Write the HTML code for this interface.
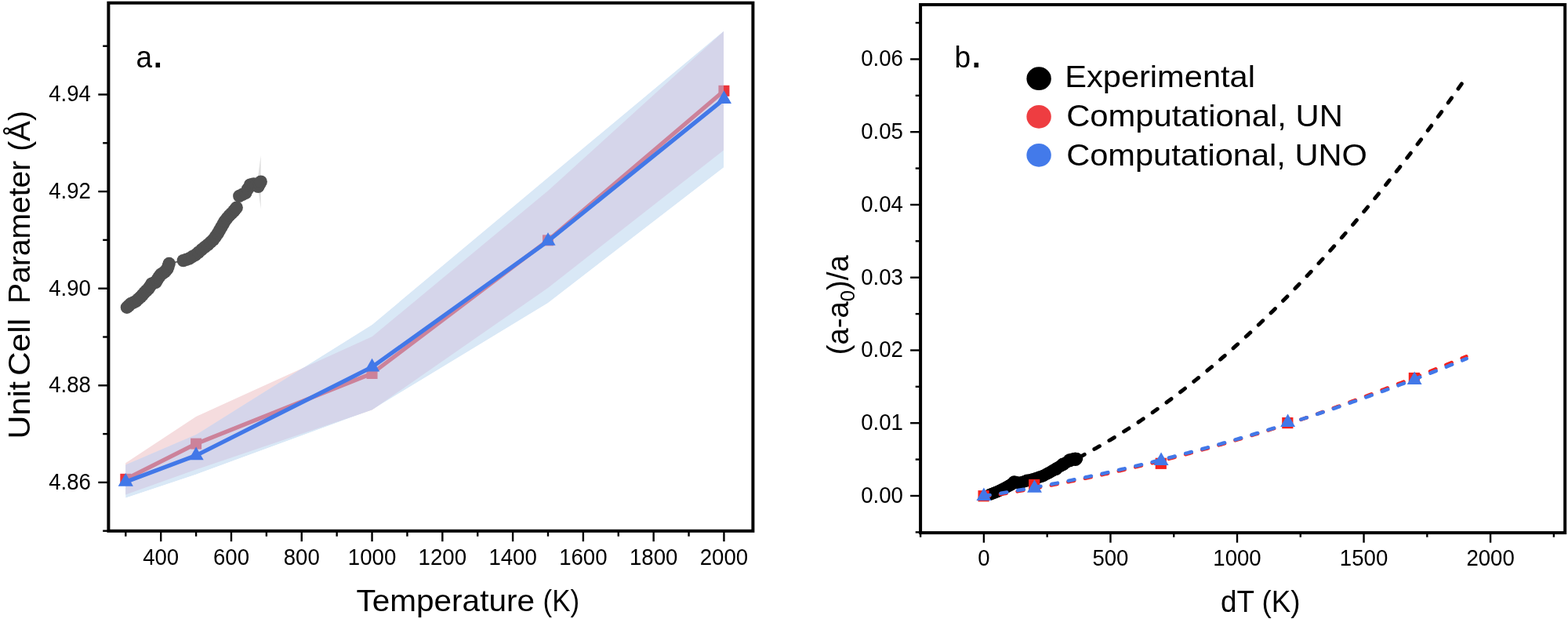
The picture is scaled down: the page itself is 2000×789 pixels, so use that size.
<!DOCTYPE html>
<html lang="en">
<head>
<meta charset="utf-8">
<title>Unit cell parameter and thermal expansion</title>
<style>
html,body{margin:0;padding:0;background:#fff;}
body{width:2000px;height:789px;overflow:hidden;font-family:"Liberation Sans", Arial, Helvetica, sans-serif;}
svg{display:block;}
svg text{font-family:"Liberation Sans", Arial, Helvetica, sans-serif;}
</style>
</head>
<body>
<svg width="2000" height="789" viewBox="0 0 2000 789" font-family='"Liberation Sans", Arial, Helvetica, sans-serif'>
<defs><clipPath id="cb"><polygon points="160.15,592.50 250.10,554.10 474.70,413.70 698.90,226.30 923.05,39.40 923.05,213.50 698.90,386.20 474.70,522.20 250.10,604.70 160.15,634.70"/></clipPath></defs>
<rect x="0" y="0" width="2000" height="789" fill="#ffffff"/>
<g id="left-data">
<polygon points="332.7,198 328.2,232 332.7,266.5" fill="#dedede"/>
<polyline points="161.90,391.80 166.70,387.30 173.50,383.90 179.20,378.70 184.30,373.00 189.50,367.90 193.50,361.60 198.60,359.90 202.00,354.20 205.40,349.60 210.00,346.80 213.40,342.80 215.70,336.00 233.80,332.10 241.20,329.60 249.20,325.00 257.20,318.20 265.20,311.90 272.00,305.60 277.70,297.60 282.30,289.60 286.80,281.70 292.50,274.80 298.20,269.10 301.70,264.60 305.30,249.90 313.30,245.90 319.00,235.60 323.60,234.50 329.30,237.90 332.70,231.60" fill="none" stroke="#505050" stroke-width="1.5" />
<circle cx="161.9" cy="391.8" r="8.2" fill="#505050"/>
<circle cx="164.3" cy="389.6" r="8.2" fill="#505050"/>
<circle cx="166.7" cy="387.3" r="8.2" fill="#505050"/>
<circle cx="170.1" cy="385.6" r="8.2" fill="#505050"/>
<circle cx="173.5" cy="383.9" r="8.2" fill="#505050"/>
<circle cx="176.3" cy="381.3" r="8.2" fill="#505050"/>
<circle cx="179.2" cy="378.7" r="8.2" fill="#505050"/>
<circle cx="181.8" cy="375.9" r="8.2" fill="#505050"/>
<circle cx="184.3" cy="373.0" r="8.2" fill="#505050"/>
<circle cx="186.9" cy="370.4" r="8.2" fill="#505050"/>
<circle cx="189.5" cy="367.9" r="8.2" fill="#505050"/>
<circle cx="191.5" cy="364.8" r="8.2" fill="#505050"/>
<circle cx="193.5" cy="361.6" r="8.2" fill="#505050"/>
<circle cx="196.1" cy="360.8" r="8.2" fill="#505050"/>
<circle cx="198.6" cy="359.9" r="8.2" fill="#505050"/>
<circle cx="200.3" cy="357.0" r="8.2" fill="#505050"/>
<circle cx="202.0" cy="354.2" r="8.2" fill="#505050"/>
<circle cx="203.7" cy="351.9" r="8.2" fill="#505050"/>
<circle cx="205.4" cy="349.6" r="8.2" fill="#505050"/>
<circle cx="207.7" cy="348.2" r="8.2" fill="#505050"/>
<circle cx="210.0" cy="346.8" r="8.2" fill="#505050"/>
<circle cx="211.7" cy="344.8" r="8.2" fill="#505050"/>
<circle cx="213.4" cy="342.8" r="8.2" fill="#505050"/>
<circle cx="214.6" cy="339.4" r="8.2" fill="#505050"/>
<circle cx="215.7" cy="336.0" r="8.2" fill="#505050"/>
<circle cx="233.8" cy="332.1" r="8.2" fill="#505050"/>
<circle cx="237.5" cy="330.9" r="8.2" fill="#505050"/>
<circle cx="241.2" cy="329.6" r="8.2" fill="#505050"/>
<circle cx="245.2" cy="327.3" r="8.2" fill="#505050"/>
<circle cx="249.2" cy="325.0" r="8.2" fill="#505050"/>
<circle cx="253.2" cy="321.6" r="8.2" fill="#505050"/>
<circle cx="257.2" cy="318.2" r="8.2" fill="#505050"/>
<circle cx="261.2" cy="315.0" r="8.2" fill="#505050"/>
<circle cx="265.2" cy="311.9" r="8.2" fill="#505050"/>
<circle cx="268.6" cy="308.8" r="8.2" fill="#505050"/>
<circle cx="272.0" cy="305.6" r="8.2" fill="#505050"/>
<circle cx="274.9" cy="301.6" r="8.2" fill="#505050"/>
<circle cx="277.7" cy="297.6" r="8.2" fill="#505050"/>
<circle cx="280.0" cy="293.6" r="8.2" fill="#505050"/>
<circle cx="282.3" cy="289.6" r="8.2" fill="#505050"/>
<circle cx="284.6" cy="285.6" r="8.2" fill="#505050"/>
<circle cx="286.8" cy="281.7" r="8.2" fill="#505050"/>
<circle cx="289.6" cy="278.2" r="8.2" fill="#505050"/>
<circle cx="292.5" cy="274.8" r="8.2" fill="#505050"/>
<circle cx="295.4" cy="272.0" r="8.2" fill="#505050"/>
<circle cx="298.2" cy="269.1" r="8.2" fill="#505050"/>
<circle cx="299.9" cy="266.9" r="8.2" fill="#505050"/>
<circle cx="301.7" cy="264.6" r="8.2" fill="#505050"/>
<circle cx="305.3" cy="249.9" r="8.2" fill="#505050"/>
<circle cx="309.3" cy="247.9" r="8.2" fill="#505050"/>
<circle cx="313.3" cy="245.9" r="8.2" fill="#505050"/>
<circle cx="316.1" cy="240.8" r="8.2" fill="#505050"/>
<circle cx="319.0" cy="235.6" r="8.2" fill="#505050"/>
<circle cx="321.3" cy="235.1" r="8.2" fill="#505050"/>
<circle cx="323.6" cy="234.5" r="8.2" fill="#505050"/>
<circle cx="326.5" cy="236.2" r="8.2" fill="#505050"/>
<circle cx="329.3" cy="237.9" r="8.2" fill="#505050"/>
<circle cx="331.0" cy="234.8" r="8.2" fill="#505050"/>
<circle cx="332.7" cy="231.6" r="8.2" fill="#505050"/>
<polygon points="160.15,590.20 250.10,530.90 474.70,429.10 698.90,243.20 923.05,39.90 923.05,191.40 698.90,367.00 474.70,522.50 250.10,598.60 160.15,630.50" fill="#f5dcde"/>
<polyline points="160.31,610.80 250.09,565.60 474.54,476.00 698.99,306.40 923.44,115.80" fill="none" stroke="#eb353b" stroke-width="5.3" stroke-linejoin="round"/>
<rect x="153.31" y="603.80" width="14" height="14" fill="#eb353b"/>
<rect x="243.09" y="558.60" width="14" height="14" fill="#eb353b"/>
<rect x="467.54" y="469.00" width="14" height="14" fill="#eb353b"/>
<rect x="691.99" y="299.40" width="14" height="14" fill="#eb353b"/>
<rect x="916.44" y="108.80" width="14" height="14" fill="#eb353b"/>
<g clip-path="url(#cb)">
<polygon points="160.15,592.50 250.10,554.10 474.70,413.70 698.90,226.30 923.05,39.40 923.05,213.50 698.90,386.20 474.70,522.20 250.10,604.70 160.15,634.70" fill="#d9e8f6"/>
<polygon points="160.15,590.20 250.10,530.90 474.70,429.10 698.90,243.20 923.05,39.90 923.05,191.40 698.90,367.00 474.70,522.50 250.10,598.60 160.15,630.50" fill="#d5d5ea"/>
<polyline points="160.31,610.80 250.09,565.60 474.54,476.00 698.99,306.40 923.44,115.80" fill="none" stroke="#cc829a" stroke-width="5.3" stroke-linejoin="round"/>
<rect x="153.31" y="603.80" width="14" height="14" fill="#cc829a"/>
<rect x="243.09" y="558.60" width="14" height="14" fill="#cc829a"/>
<rect x="467.54" y="469.00" width="14" height="14" fill="#cc829a"/>
<rect x="691.99" y="299.40" width="14" height="14" fill="#cc829a"/>
<rect x="916.44" y="108.80" width="14" height="14" fill="#cc829a"/>
</g>
<polyline points="160.31,614.20 250.09,580.60 474.54,467.90 698.99,307.30 923.44,126.40" fill="none" stroke="#4278e8" stroke-width="5.3" stroke-linejoin="round"/>
<polygon points="160.31,603.07 169.91,619.77 150.71,619.77" fill="#4278e8"/>
<polygon points="250.09,569.47 259.69,586.17 240.49,586.17" fill="#4278e8"/>
<polygon points="474.54,456.77 484.14,473.47 464.94,473.47" fill="#4278e8"/>
<polygon points="698.99,296.17 708.59,312.87 689.39,312.87" fill="#4278e8"/>
<polygon points="923.44,115.27 933.04,131.97 913.84,131.97" fill="#4278e8"/>
</g>
<g id="left-axes">
<rect x="138.4" y="3.7" width="822.00" height="673.10" fill="none" stroke="#000" stroke-width="4.0"/>
<line x1="205.20" y1="676.8" x2="205.20" y2="690.20" stroke="#000" stroke-width="2.4"/>
<text x="205.20" y="719.6" font-size="29.0" text-anchor="middle" textLength="46.0" lengthAdjust="spacingAndGlyphs">400</text>
<line x1="294.98" y1="676.8" x2="294.98" y2="690.20" stroke="#000" stroke-width="2.4"/>
<text x="294.98" y="719.6" font-size="29.0" text-anchor="middle" textLength="46.0" lengthAdjust="spacingAndGlyphs">600</text>
<line x1="384.76" y1="676.8" x2="384.76" y2="690.20" stroke="#000" stroke-width="2.4"/>
<text x="384.76" y="719.6" font-size="29.0" text-anchor="middle" textLength="46.0" lengthAdjust="spacingAndGlyphs">800</text>
<line x1="474.54" y1="676.8" x2="474.54" y2="690.20" stroke="#000" stroke-width="2.4"/>
<text x="474.54" y="719.6" font-size="29.0" text-anchor="middle" textLength="61.4" lengthAdjust="spacingAndGlyphs">1000</text>
<line x1="564.32" y1="676.8" x2="564.32" y2="690.20" stroke="#000" stroke-width="2.4"/>
<text x="564.32" y="719.6" font-size="29.0" text-anchor="middle" textLength="61.4" lengthAdjust="spacingAndGlyphs">1200</text>
<line x1="654.10" y1="676.8" x2="654.10" y2="690.20" stroke="#000" stroke-width="2.4"/>
<text x="654.10" y="719.6" font-size="29.0" text-anchor="middle" textLength="61.4" lengthAdjust="spacingAndGlyphs">1400</text>
<line x1="743.88" y1="676.8" x2="743.88" y2="690.20" stroke="#000" stroke-width="2.4"/>
<text x="743.88" y="719.6" font-size="29.0" text-anchor="middle" textLength="61.4" lengthAdjust="spacingAndGlyphs">1600</text>
<line x1="833.66" y1="676.8" x2="833.66" y2="690.20" stroke="#000" stroke-width="2.4"/>
<text x="833.66" y="719.6" font-size="29.0" text-anchor="middle" textLength="61.4" lengthAdjust="spacingAndGlyphs">1800</text>
<line x1="923.44" y1="676.8" x2="923.44" y2="690.20" stroke="#000" stroke-width="2.4"/>
<text x="923.44" y="719.6" font-size="29.0" text-anchor="middle" textLength="61.4" lengthAdjust="spacingAndGlyphs">2000</text>
<line x1="160.31" y1="676.8" x2="160.31" y2="683.70" stroke="#000" stroke-width="2.4"/>
<line x1="250.09" y1="676.8" x2="250.09" y2="683.70" stroke="#000" stroke-width="2.4"/>
<line x1="339.87" y1="676.8" x2="339.87" y2="683.70" stroke="#000" stroke-width="2.4"/>
<line x1="429.65" y1="676.8" x2="429.65" y2="683.70" stroke="#000" stroke-width="2.4"/>
<line x1="519.43" y1="676.8" x2="519.43" y2="683.70" stroke="#000" stroke-width="2.4"/>
<line x1="609.21" y1="676.8" x2="609.21" y2="683.70" stroke="#000" stroke-width="2.4"/>
<line x1="698.99" y1="676.8" x2="698.99" y2="683.70" stroke="#000" stroke-width="2.4"/>
<line x1="788.77" y1="676.8" x2="788.77" y2="683.70" stroke="#000" stroke-width="2.4"/>
<line x1="878.55" y1="676.8" x2="878.55" y2="683.70" stroke="#000" stroke-width="2.4"/>
<line x1="138.4" y1="614.90" x2="125.30" y2="614.90" stroke="#000" stroke-width="2.4"/>
<text x="115.9" y="623.80" font-size="29.0" text-anchor="end" textLength="53.7" lengthAdjust="spacingAndGlyphs">4.86</text>
<line x1="138.4" y1="491.30" x2="125.30" y2="491.30" stroke="#000" stroke-width="2.4"/>
<text x="115.9" y="500.20" font-size="29.0" text-anchor="end" textLength="53.7" lengthAdjust="spacingAndGlyphs">4.88</text>
<line x1="138.4" y1="367.70" x2="125.30" y2="367.70" stroke="#000" stroke-width="2.4"/>
<text x="115.9" y="376.60" font-size="29.0" text-anchor="end" textLength="53.7" lengthAdjust="spacingAndGlyphs">4.90</text>
<line x1="138.4" y1="244.10" x2="125.30" y2="244.10" stroke="#000" stroke-width="2.4"/>
<text x="115.9" y="253.00" font-size="29.0" text-anchor="end" textLength="53.7" lengthAdjust="spacingAndGlyphs">4.92</text>
<line x1="138.4" y1="120.50" x2="125.30" y2="120.50" stroke="#000" stroke-width="2.4"/>
<text x="115.9" y="129.40" font-size="29.0" text-anchor="end" textLength="53.7" lengthAdjust="spacingAndGlyphs">4.94</text>
<line x1="138.4" y1="676.70" x2="131.20" y2="676.70" stroke="#000" stroke-width="2.4"/>
<line x1="138.4" y1="553.10" x2="131.20" y2="553.10" stroke="#000" stroke-width="2.4"/>
<line x1="138.4" y1="429.50" x2="131.20" y2="429.50" stroke="#000" stroke-width="2.4"/>
<line x1="138.4" y1="305.90" x2="131.20" y2="305.90" stroke="#000" stroke-width="2.4"/>
<line x1="138.4" y1="182.30" x2="131.20" y2="182.30" stroke="#000" stroke-width="2.4"/>
<line x1="138.4" y1="58.70" x2="131.20" y2="58.70" stroke="#000" stroke-width="2.4"/>
</g>
<g id="right-data">
<circle cx="1262.6" cy="630.4" r="7.7" fill="#000"/>
<circle cx="1265.1" cy="629.4" r="7.7" fill="#000"/>
<circle cx="1267.7" cy="628.4" r="7.7" fill="#000"/>
<circle cx="1270.2" cy="627.4" r="7.7" fill="#000"/>
<circle cx="1272.8" cy="626.4" r="7.7" fill="#000"/>
<circle cx="1275.3" cy="625.1" r="7.7" fill="#000"/>
<circle cx="1277.8" cy="623.9" r="7.7" fill="#000"/>
<circle cx="1280.4" cy="622.6" r="7.7" fill="#000"/>
<circle cx="1282.9" cy="621.4" r="7.7" fill="#000"/>
<circle cx="1284.8" cy="620.4" r="7.7" fill="#000"/>
<circle cx="1286.7" cy="619.3" r="7.7" fill="#000"/>
<circle cx="1288.6" cy="618.2" r="7.7" fill="#000"/>
<circle cx="1290.5" cy="617.2" r="7.7" fill="#000"/>
<circle cx="1291.3" cy="616.5" r="7.7" fill="#000"/>
<circle cx="1292.2" cy="615.8" r="7.7" fill="#000"/>
<circle cx="1293.0" cy="615.1" r="7.7" fill="#000"/>
<circle cx="1293.8" cy="614.4" r="7.7" fill="#000"/>
<circle cx="1295.5" cy="614.7" r="7.7" fill="#000"/>
<circle cx="1297.2" cy="615.0" r="7.7" fill="#000"/>
<circle cx="1298.8" cy="615.3" r="7.7" fill="#000"/>
<circle cx="1300.5" cy="615.6" r="7.7" fill="#000"/>
<circle cx="1302.1" cy="615.1" r="7.7" fill="#000"/>
<circle cx="1303.7" cy="614.6" r="7.7" fill="#000"/>
<circle cx="1305.2" cy="614.1" r="7.7" fill="#000"/>
<circle cx="1306.8" cy="613.6" r="7.7" fill="#000"/>
<circle cx="1310.3" cy="612.6" r="7.7" fill="#000"/>
<circle cx="1313.9" cy="611.7" r="7.7" fill="#000"/>
<circle cx="1317.5" cy="610.8" r="7.7" fill="#000"/>
<circle cx="1321.0" cy="609.8" r="7.7" fill="#000"/>
<circle cx="1323.5" cy="608.9" r="7.7" fill="#000"/>
<circle cx="1326.0" cy="608.0" r="7.7" fill="#000"/>
<circle cx="1328.6" cy="607.2" r="7.7" fill="#000"/>
<circle cx="1331.1" cy="606.3" r="7.7" fill="#000"/>
<circle cx="1333.6" cy="604.9" r="7.7" fill="#000"/>
<circle cx="1336.2" cy="603.5" r="7.7" fill="#000"/>
<circle cx="1338.7" cy="602.2" r="7.7" fill="#000"/>
<circle cx="1341.2" cy="600.8" r="7.7" fill="#000"/>
<circle cx="1343.8" cy="599.3" r="7.7" fill="#000"/>
<circle cx="1346.3" cy="597.8" r="7.7" fill="#000"/>
<circle cx="1348.9" cy="596.3" r="7.7" fill="#000"/>
<circle cx="1351.4" cy="594.8" r="7.7" fill="#000"/>
<circle cx="1353.9" cy="593.2" r="7.7" fill="#000"/>
<circle cx="1356.5" cy="591.6" r="7.7" fill="#000"/>
<circle cx="1359.0" cy="590.1" r="7.7" fill="#000"/>
<circle cx="1361.5" cy="588.5" r="7.7" fill="#000"/>
<circle cx="1363.2" cy="587.6" r="7.7" fill="#000"/>
<circle cx="1365.0" cy="586.8" r="7.7" fill="#000"/>
<circle cx="1366.8" cy="585.9" r="7.7" fill="#000"/>
<circle cx="1368.5" cy="585.0" r="7.7" fill="#000"/>
<circle cx="1369.8" cy="584.9" r="7.7" fill="#000"/>
<circle cx="1371.0" cy="584.8" r="7.7" fill="#000"/>
<circle cx="1372.3" cy="584.7" r="7.7" fill="#000"/>
<circle cx="1373.6" cy="584.6" r="7.7" fill="#000"/>
<circle cx="1293.6" cy="614.2" r="7.9" fill="#000"/>
<circle cx="1364.5" cy="586.6" r="8.6" fill="#000"/>
<circle cx="1371.5" cy="585.2" r="8.8" fill="#000"/>
<circle cx="1356.0" cy="591.8" r="8.4" fill="#000"/>
<circle cx="1310.0" cy="612.6" r="8.0" fill="#000"/>
<circle cx="1347.0" cy="598.0" r="8.0" fill="#000"/>
<polyline points="1376.00,583.14 1378.48,581.85 1380.95,580.55 1383.43,579.23 1385.90,577.90 1388.38,576.56 1390.85,575.21 1393.33,573.84 1395.80,572.47 1398.28,571.08 1400.75,569.68 1403.23,568.27 1405.70,566.85 1408.18,565.41 1410.66,563.96 1413.13,562.51 1415.61,561.04 1418.08,559.56 1420.56,558.06 1423.03,556.56 1425.51,555.04 1427.98,553.51 1430.46,551.97 1432.93,550.42 1435.41,548.86 1437.88,547.28 1440.36,545.70 1442.84,544.10 1445.31,542.49 1447.79,540.87 1450.26,539.24 1452.74,537.59 1455.21,535.94 1457.69,534.27 1460.16,532.59 1462.64,530.90 1465.11,529.19 1467.59,527.48 1470.06,525.76 1472.54,524.02 1475.02,522.27 1477.49,520.51 1479.97,518.74 1482.44,516.95 1484.92,515.16 1487.39,513.35 1489.87,511.53 1492.34,509.70 1494.82,507.86 1497.29,506.01 1499.77,504.15 1502.24,502.27 1504.72,500.38 1507.19,498.48 1509.67,496.57 1512.15,494.65 1514.62,492.72 1517.10,490.77 1519.57,488.82 1522.05,486.85 1524.52,484.87 1527.00,482.88 1529.47,480.88 1531.95,478.87 1534.42,476.84 1536.90,474.80 1539.37,472.76 1541.85,470.70 1544.33,468.63 1546.80,466.54 1549.28,464.45 1551.75,462.35 1554.23,460.23 1556.70,458.10 1559.18,455.96 1561.65,453.81 1564.13,451.65 1566.60,449.48 1569.08,447.29 1571.55,445.10 1574.03,442.89 1576.51,440.67 1578.98,438.44 1581.46,436.20 1583.93,433.95 1586.41,431.69 1588.88,429.41 1591.36,427.13 1593.83,424.83 1596.31,422.52 1598.78,420.20 1601.26,417.87 1603.73,415.52 1606.21,413.17 1608.69,410.80 1611.16,408.43 1613.64,406.04 1616.11,403.64 1618.59,401.23 1621.06,398.81 1623.54,396.38 1626.01,393.93 1628.49,391.48 1630.96,389.01 1633.44,386.53 1635.91,384.04 1638.39,381.54 1640.87,379.03 1643.34,376.51 1645.82,373.98 1648.29,371.43 1650.77,368.87 1653.24,366.31 1655.72,363.73 1658.19,361.14 1660.67,358.54 1663.14,355.93 1665.62,353.30 1668.09,350.67 1670.57,348.02 1673.05,345.37 1675.52,342.70 1678.00,340.02 1680.47,337.33 1682.95,334.63 1685.42,331.92 1687.90,329.20 1690.37,326.46 1692.85,323.72 1695.32,320.96 1697.80,318.19 1700.27,315.41 1702.75,312.62 1705.23,309.82 1707.70,307.01 1710.18,304.19 1712.65,301.36 1715.13,298.51 1717.60,295.66 1720.08,292.79 1722.55,289.91 1725.03,287.02 1727.50,284.12 1729.98,281.21 1732.45,278.29 1734.93,275.36 1737.41,272.41 1739.88,269.46 1742.36,266.49 1744.83,263.52 1747.31,260.53 1749.78,257.53 1752.26,254.52 1754.73,251.50 1757.21,248.47 1759.68,245.43 1762.16,242.37 1764.63,239.31 1767.11,236.23 1769.58,233.15 1772.06,230.05 1774.54,226.94 1777.01,223.82 1779.49,220.69 1781.96,217.55 1784.44,214.40 1786.91,211.24 1789.39,208.07 1791.86,204.88 1794.34,201.69 1796.81,198.48 1799.29,195.27 1801.76,192.04 1804.24,188.80 1806.72,185.55 1809.19,182.29 1811.67,179.02 1814.14,175.74 1816.62,172.45 1819.09,169.14 1821.57,165.83 1824.04,162.51 1826.52,159.17 1828.99,155.82 1831.47,152.47 1833.94,149.10 1836.42,145.72 1838.90,142.33 1841.37,138.93 1843.85,135.52 1846.32,132.10 1848.80,128.67 1851.27,125.23 1853.75,121.77 1856.22,118.31 1858.70,114.83 1861.17,111.35 1863.65,107.85 1866.12,104.34 1868.60,100.82" fill="none" stroke="#000" stroke-width="4.9" stroke-dasharray="7.6 14.337839691832192" stroke-dashoffset="21.33" stroke-linecap="round" />
<polyline points="1254.50,633.49 1257.59,633.00 1260.69,632.52 1263.78,632.02 1266.88,631.53 1269.97,631.03 1273.07,630.52 1276.16,630.01 1279.26,629.50 1282.35,628.98 1285.44,628.46 1288.54,627.94 1291.63,627.41 1294.73,626.88 1297.82,626.34 1300.92,625.80 1304.01,625.25 1307.11,624.71 1310.20,624.15 1313.29,623.60 1316.39,623.03 1319.48,622.47 1322.58,621.90 1325.67,621.33 1328.77,620.75 1331.86,620.17 1334.96,619.58 1338.05,618.99 1341.15,618.40 1344.24,617.80 1347.33,617.20 1350.43,616.60 1353.52,615.99 1356.62,615.37 1359.71,614.75 1362.81,614.13 1365.90,613.51 1369.00,612.88 1372.09,612.24 1375.18,611.61 1378.28,610.96 1381.37,610.32 1384.47,609.67 1387.56,609.02 1390.66,608.36 1393.75,607.70 1396.85,607.03 1399.94,606.36 1403.03,605.69 1406.13,605.01 1409.22,604.33 1412.32,603.64 1415.41,602.95 1418.51,602.26 1421.60,601.56 1424.70,600.86 1427.79,600.15 1430.88,599.44 1433.98,598.73 1437.07,598.01 1440.17,597.29 1443.26,596.56 1446.36,595.83 1449.45,595.10 1452.55,594.36 1455.64,593.62 1458.74,592.88 1461.83,592.13 1464.92,591.37 1468.02,590.62 1471.11,589.85 1474.21,589.09 1477.30,588.32 1480.40,587.54 1483.49,586.75 1486.59,585.95 1489.68,585.14 1492.77,584.34 1495.87,583.53 1498.96,582.71 1502.06,581.89 1505.15,581.07 1508.25,580.24 1511.34,579.41 1514.44,578.58 1517.53,577.74 1520.62,576.89 1523.72,576.05 1526.81,575.20 1529.91,574.34 1533.00,573.48 1536.10,572.62 1539.19,571.75 1542.29,570.88 1545.38,570.01 1548.47,569.13 1551.57,568.25 1554.66,567.36 1557.76,566.47 1560.85,565.58 1563.95,564.68 1567.04,563.78 1570.14,562.87 1573.23,561.96 1576.33,561.05 1579.42,560.13 1582.51,559.21 1585.61,558.28 1588.70,557.35 1591.80,556.42 1594.89,555.48 1597.99,554.54 1601.08,553.60 1604.18,552.65 1607.27,551.70 1610.36,550.74 1613.46,549.78 1616.55,548.82 1619.65,547.85 1622.74,546.88 1625.84,545.90 1628.93,544.92 1632.03,543.94 1635.12,542.95 1638.21,541.96 1641.31,540.94 1644.40,539.90 1647.50,538.85 1650.59,537.81 1653.69,536.75 1656.78,535.70 1659.88,534.64 1662.97,533.57 1666.06,532.50 1669.16,531.43 1672.25,530.36 1675.35,529.28 1678.44,528.19 1681.54,527.11 1684.63,526.02 1687.73,524.92 1690.82,523.82 1693.92,522.72 1697.01,521.61 1700.10,520.50 1703.20,519.39 1706.29,518.27 1709.39,517.15 1712.48,516.02 1715.58,514.89 1718.67,513.76 1721.77,512.62 1724.86,511.48 1727.95,510.34 1731.05,509.19 1734.14,508.04 1737.24,506.88 1740.33,505.72 1743.43,504.55 1746.52,503.39 1749.62,502.21 1752.71,501.04 1755.80,499.86 1758.90,498.68 1761.99,497.51 1765.09,496.34 1768.18,495.17 1771.28,493.99 1774.37,492.81 1777.47,491.63 1780.56,490.44 1783.65,489.25 1786.75,488.06 1789.84,486.86 1792.94,485.65 1796.03,484.45 1799.13,483.24 1802.22,482.02 1805.32,480.81 1808.41,479.59 1811.51,478.36 1814.60,477.13 1817.69,475.90 1820.79,474.66 1823.88,473.42 1826.98,472.18 1830.07,470.93 1833.17,469.68 1836.26,468.42 1839.36,467.16 1842.45,465.90 1845.54,464.63 1848.64,463.36 1851.73,462.09 1854.83,460.81 1857.92,459.53 1861.02,458.24 1864.11,456.95 1867.21,455.66 1870.30,454.37" fill="none" stroke="#f5221d" stroke-width="4.6" stroke-dasharray="7.8 14.171939016983835" stroke-dashoffset="0.22" stroke-linecap="round" />
<rect x="1247.50" y="625.10" width="14.2" height="14.2" fill="#f5221d"/>
<rect x="1312.12" y="610.90" width="14.2" height="14.2" fill="#f5221d"/>
<rect x="1473.67" y="583.70" width="14.2" height="14.2" fill="#f5221d"/>
<rect x="1635.22" y="532.00" width="14.2" height="14.2" fill="#f5221d"/>
<rect x="1796.77" y="474.90" width="14.2" height="14.2" fill="#f5221d"/>
<polyline points="1254.80,632.29 1257.89,631.80 1260.99,631.31 1264.08,630.81 1267.18,630.32 1270.27,629.81 1273.37,629.31 1276.46,628.79 1279.56,628.28 1282.65,627.76 1285.74,627.24 1288.84,626.71 1291.93,626.18 1295.03,625.64 1298.12,625.10 1301.22,624.56 1304.31,624.01 1307.41,623.46 1310.50,622.90 1313.59,622.34 1316.69,621.78 1319.78,621.21 1322.88,620.64 1325.97,620.06 1329.07,619.48 1332.16,618.90 1335.26,618.31 1338.35,617.72 1341.45,617.12 1344.54,616.52 1347.63,615.92 1350.73,615.31 1353.82,614.70 1356.92,614.08 1360.01,613.46 1363.11,612.84 1366.20,612.21 1369.30,611.58 1372.39,610.94 1375.48,610.30 1378.58,609.65 1381.67,609.01 1384.77,608.35 1387.86,607.70 1390.96,607.04 1394.05,606.37 1397.15,605.70 1400.24,605.03 1403.33,604.35 1406.43,603.67 1409.52,602.99 1412.62,602.30 1415.71,601.61 1418.81,600.91 1421.90,600.21 1425.00,599.51 1428.09,598.80 1431.18,598.09 1434.28,597.37 1437.37,596.65 1440.47,595.93 1443.56,595.20 1446.66,594.46 1449.75,593.73 1452.85,592.99 1455.94,592.24 1459.04,591.50 1462.13,590.74 1465.22,589.99 1468.32,589.23 1471.41,588.46 1474.51,587.69 1477.60,586.92 1480.70,586.15 1483.79,585.37 1486.89,584.58 1489.98,583.79 1493.07,583.00 1496.17,582.21 1499.26,581.41 1502.36,580.60 1505.45,579.80 1508.55,578.98 1511.64,578.17 1514.74,577.35 1517.83,576.53 1520.92,575.70 1524.02,574.87 1527.11,574.03 1530.21,573.19 1533.30,572.35 1536.40,571.50 1539.49,570.65 1542.59,569.80 1545.68,568.94 1548.77,568.07 1551.87,567.21 1554.96,566.34 1558.06,565.46 1561.15,564.58 1564.25,563.70 1567.34,562.81 1570.44,561.92 1573.53,561.03 1576.63,560.13 1579.72,559.23 1582.81,558.32 1585.91,557.41 1589.00,556.50 1592.10,555.58 1595.19,554.66 1598.29,553.73 1601.38,552.81 1604.48,551.87 1607.57,550.93 1610.66,549.99 1613.76,549.05 1616.85,548.10 1619.95,547.15 1623.04,546.19 1626.14,545.23 1629.23,544.27 1632.33,543.30 1635.42,542.32 1638.51,541.35 1641.61,540.37 1644.70,539.38 1647.80,538.40 1650.89,537.40 1653.99,536.41 1657.08,535.41 1660.18,534.41 1663.27,533.40 1666.36,532.39 1669.46,531.37 1672.55,530.35 1675.65,529.33 1678.74,528.30 1681.84,527.27 1684.93,526.24 1688.03,525.20 1691.12,524.16 1694.22,523.11 1697.31,522.06 1700.40,521.01 1703.50,519.95 1706.59,518.89 1709.69,517.83 1712.78,516.76 1715.88,515.69 1718.97,514.61 1722.07,513.53 1725.16,512.44 1728.25,511.36 1731.35,510.26 1734.44,509.17 1737.54,508.07 1740.63,506.96 1743.73,505.86 1746.82,504.75 1749.92,503.63 1753.01,502.51 1756.10,501.39 1759.20,500.26 1762.29,499.13 1765.39,498.00 1768.48,496.86 1771.58,495.72 1774.67,494.57 1777.77,493.42 1780.86,492.27 1783.95,491.11 1787.05,489.95 1790.14,488.79 1793.24,487.62 1796.33,486.44 1799.43,485.27 1802.52,484.09 1805.62,482.90 1808.71,481.72 1811.81,480.53 1814.90,479.33 1817.99,478.13 1821.09,476.93 1824.18,475.72 1827.28,474.51 1830.37,473.30 1833.47,472.08 1836.56,470.86 1839.66,469.63 1842.75,468.40 1845.84,467.17 1848.94,465.93 1852.03,464.69 1855.13,463.45 1858.22,462.20 1861.32,460.95 1864.41,459.69 1867.51,458.43 1870.60,457.17" fill="none" stroke="#4278e8" stroke-width="4.6" stroke-dasharray="7.8 14.122334610231633" stroke-dashoffset="21.81" stroke-linecap="round" />
<polygon points="1254.90,621.60 1264.35,638.10 1245.45,638.10" fill="#4278e8"/>
<polygon points="1319.52,611.30 1328.97,627.80 1310.07,627.80" fill="#4278e8"/>
<polygon points="1481.07,576.60 1490.52,593.10 1471.62,593.10" fill="#4278e8"/>
<polygon points="1642.62,527.50 1652.07,544.00 1633.17,544.00" fill="#4278e8"/>
<polygon points="1804.17,473.50 1813.62,490.00 1794.72,490.00" fill="#4278e8"/>
</g>
<g id="right-axes">
<rect x="1174.1" y="5.95" width="822.10" height="673.15" fill="none" stroke="#000" stroke-width="4.0"/>
<line x1="1254.90" y1="679.1" x2="1254.90" y2="691.70" stroke="#000" stroke-width="2.4"/>
<text x="1254.90" y="721.1" font-size="29.0" text-anchor="middle" textLength="15.3" lengthAdjust="spacingAndGlyphs">0</text>
<line x1="1416.45" y1="679.1" x2="1416.45" y2="691.70" stroke="#000" stroke-width="2.4"/>
<text x="1416.45" y="721.1" font-size="29.0" text-anchor="middle" textLength="46.0" lengthAdjust="spacingAndGlyphs">500</text>
<line x1="1578.00" y1="679.1" x2="1578.00" y2="691.70" stroke="#000" stroke-width="2.4"/>
<text x="1578.00" y="721.1" font-size="29.0" text-anchor="middle" textLength="61.4" lengthAdjust="spacingAndGlyphs">1000</text>
<line x1="1739.55" y1="679.1" x2="1739.55" y2="691.70" stroke="#000" stroke-width="2.4"/>
<text x="1739.55" y="721.1" font-size="29.0" text-anchor="middle" textLength="61.4" lengthAdjust="spacingAndGlyphs">1500</text>
<line x1="1901.10" y1="679.1" x2="1901.10" y2="691.70" stroke="#000" stroke-width="2.4"/>
<text x="1901.10" y="721.1" font-size="29.0" text-anchor="middle" textLength="61.4" lengthAdjust="spacingAndGlyphs">2000</text>
<line x1="1174.12" y1="679.1" x2="1174.12" y2="684.70" stroke="#000" stroke-width="2.4"/>
<line x1="1335.68" y1="679.1" x2="1335.68" y2="684.70" stroke="#000" stroke-width="2.4"/>
<line x1="1497.23" y1="679.1" x2="1497.23" y2="684.70" stroke="#000" stroke-width="2.4"/>
<line x1="1658.78" y1="679.1" x2="1658.78" y2="684.70" stroke="#000" stroke-width="2.4"/>
<line x1="1820.33" y1="679.1" x2="1820.33" y2="684.70" stroke="#000" stroke-width="2.4"/>
<line x1="1981.88" y1="679.1" x2="1981.88" y2="684.70" stroke="#000" stroke-width="2.4"/>
<line x1="1174.1" y1="632.00" x2="1161.10" y2="632.00" stroke="#000" stroke-width="2.4"/>
<text x="1151.9" y="640.90" font-size="29.0" text-anchor="end" textLength="53.7" lengthAdjust="spacingAndGlyphs">0.00</text>
<line x1="1174.1" y1="539.24" x2="1161.10" y2="539.24" stroke="#000" stroke-width="2.4"/>
<text x="1151.9" y="548.14" font-size="29.0" text-anchor="end" textLength="53.7" lengthAdjust="spacingAndGlyphs">0.01</text>
<line x1="1174.1" y1="446.48" x2="1161.10" y2="446.48" stroke="#000" stroke-width="2.4"/>
<text x="1151.9" y="455.38" font-size="29.0" text-anchor="end" textLength="53.7" lengthAdjust="spacingAndGlyphs">0.02</text>
<line x1="1174.1" y1="353.72" x2="1161.10" y2="353.72" stroke="#000" stroke-width="2.4"/>
<text x="1151.9" y="362.62" font-size="29.0" text-anchor="end" textLength="53.7" lengthAdjust="spacingAndGlyphs">0.03</text>
<line x1="1174.1" y1="260.96" x2="1161.10" y2="260.96" stroke="#000" stroke-width="2.4"/>
<text x="1151.9" y="269.86" font-size="29.0" text-anchor="end" textLength="53.7" lengthAdjust="spacingAndGlyphs">0.04</text>
<line x1="1174.1" y1="168.20" x2="1161.10" y2="168.20" stroke="#000" stroke-width="2.4"/>
<text x="1151.9" y="177.10" font-size="29.0" text-anchor="end" textLength="53.7" lengthAdjust="spacingAndGlyphs">0.05</text>
<line x1="1174.1" y1="75.44" x2="1161.10" y2="75.44" stroke="#000" stroke-width="2.4"/>
<text x="1151.9" y="84.34" font-size="29.0" text-anchor="end" textLength="53.7" lengthAdjust="spacingAndGlyphs">0.06</text>
<line x1="1174.1" y1="678.38" x2="1167.70" y2="678.38" stroke="#000" stroke-width="2.4"/>
<line x1="1174.1" y1="585.62" x2="1167.70" y2="585.62" stroke="#000" stroke-width="2.4"/>
<line x1="1174.1" y1="492.86" x2="1167.70" y2="492.86" stroke="#000" stroke-width="2.4"/>
<line x1="1174.1" y1="400.10" x2="1167.70" y2="400.10" stroke="#000" stroke-width="2.4"/>
<line x1="1174.1" y1="307.34" x2="1167.70" y2="307.34" stroke="#000" stroke-width="2.4"/>
<line x1="1174.1" y1="214.58" x2="1167.70" y2="214.58" stroke="#000" stroke-width="2.4"/>
<line x1="1174.1" y1="121.82" x2="1167.70" y2="121.82" stroke="#000" stroke-width="2.4"/>
<line x1="1174.1" y1="29.06" x2="1167.70" y2="29.06" stroke="#000" stroke-width="2.4"/>
</g>
<g id="labels" fill="#000">
<text y="86.2" font-size="39.5"><tspan x="173.6" textLength="20.6" lengthAdjust="spacingAndGlyphs">a</tspan><tspan x="193.2" font-size="58">.</tspan></text>
<text y="85.9" font-size="38.6"><tspan x="1217.6" textLength="20.6" lengthAdjust="spacingAndGlyphs">b</tspan><tspan x="1237.2" font-size="58">.</tspan></text>
<text y="779.3" font-size="38.8" xml:space="preserve"><tspan x="454.4" textLength="227.6" lengthAdjust="spacingAndGlyphs">Temperature</tspan><tspan> </tspan><tspan x="692.6" textLength="46.5" lengthAdjust="spacingAndGlyphs">(K)</tspan></text>
<text x="1557.0" y="779.7" font-size="38.8" textLength="101.5" lengthAdjust="spacingAndGlyphs" >dT (K)</text>
<text transform="translate(38,559.4) rotate(-90)" font-size="38.8" xml:space="preserve"><tspan x="0" textLength="73.5" lengthAdjust="spacingAndGlyphs">Unit</tspan><tspan> </tspan><tspan x="80.3" textLength="73.2" lengthAdjust="spacingAndGlyphs">Cell</tspan><tspan>  </tspan><tspan x="172.4" textLength="182.2" lengthAdjust="spacingAndGlyphs">Parameter</tspan><tspan> </tspan><tspan x="366.6" textLength="51.6" lengthAdjust="spacingAndGlyphs">(Å)</tspan></text>
<text transform="translate(1081.6,452.3) rotate(-90)" font-size="38.3">(a-a<tspan font-size="25.5" dy="8.5">0</tspan><tspan dy="-8.5">)/a</tspan></text>
<ellipse cx="1325.1" cy="100.2" rx="15.7" ry="14.9" fill="#000000"/>
<ellipse cx="1325.1" cy="148.8" rx="15.7" ry="14.9" fill="#ee3d41"/>
<ellipse cx="1325.1" cy="197.8" rx="15.7" ry="14.9" fill="#437aea"/>
<text x="1358.2" y="110.9" font-size="38.8" textLength="242.8" lengthAdjust="spacingAndGlyphs" >Experimental</text>
<text x="1360.2" y="161.1" font-size="38.8" textLength="352.6" lengthAdjust="spacingAndGlyphs" >Computational, UN</text>
<text x="1360.2" y="211.3" font-size="38.8" textLength="383.7" lengthAdjust="spacingAndGlyphs" >Computational, UNO</text>
</g>
</svg>
</body>
</html>
